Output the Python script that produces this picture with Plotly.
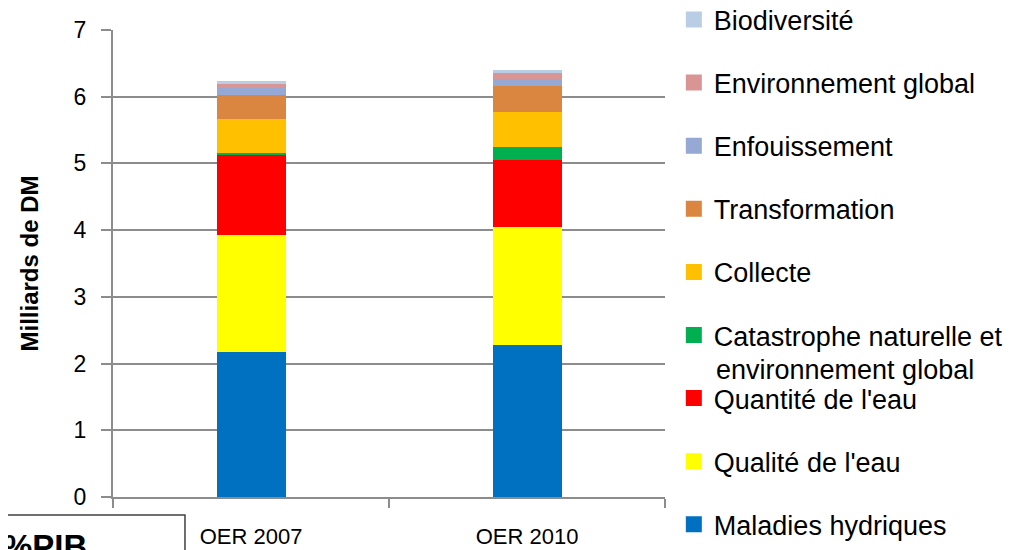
import plotly.graph_objects as go

# categories and stacked series (milliards de DM), bottom to top
categories = ["OER 2007", "OER 2010"]

series_names = [
    "Maladies hydriques",
    "Qualité de l'eau",
    "Quantité de l'eau",
    "Catastrophe naturelle et",
    "Collecte",
    "Transformation",
    "Enfouissement",
    "Environnement global",
    "Biodiversité",
]

maladies = [2.18, 2.28]
qualite = [1.75, 1.77]
quantite = [1.19, 1.00]
catastrophe = [0.03, 0.19]
collecte = [0.52, 0.53]
transformation = [0.35, 0.39]
enfouissement = [0.11, 0.11]
env_global = [0.06, 0.09]
biodiversite = [0.05, 0.04]

series_values = [maladies, qualite, quantite, catastrophe, collecte,
                 transformation, enfouissement, env_global, biodiversite]

colors = ["#0070C0", "#FFFF00", "#FF0000", "#00B050", "#FFC000",
          "#DA8540", "#95A9D4", "#D99594", "#B9CDE5"]

FONT = "Liberation Sans, Arial, sans-serif"

fig = go.Figure()
n = len(series_names)
for i, (name, vals, col) in enumerate(zip(series_names, series_values, colors)):
    fig.add_trace(go.Bar(
        x=categories, y=vals, name=name,
        marker=dict(color=col, line=dict(width=0)),
        legendgroup=f"g{i}", showlegend=False,
    ))
    # legend-only entry with a bigger square swatch
    fig.add_trace(go.Scatter(
        x=[None], y=[None], mode="markers", name=name,
        marker=dict(symbol="square", size=16, color=col),
        legendgroup=f"g{i}", legendrank=n - i, hoverinfo="skip",
    ))

fig.update_layout(
    barmode="stack",
    bargap=0.75,
    width=1023, height=550,
    margin=dict(l=105, r=366, t=22, b=61, autoexpand=False),
    plot_bgcolor="white", paper_bgcolor="white",
    font=dict(family=FONT, size=22, color="black"),
    legend=dict(
        x=1.016, xanchor="left", y=1.074, yanchor="top",
        traceorder="grouped", tracegroupgap=25,
        font=dict(size=27), bgcolor="rgba(0,0,0,0)",
        itemsizing="trace", maxheight=1000,
    ),
    xaxis=dict(
        showline=True, linecolor="#8c8c8c", linewidth=2,
        ticks="outside", tickson="boundaries", ticklen=9,
        tickcolor="#8c8c8c", tickwidth=2,
        ticklabelstandoff=19,
        tickfont=dict(size=22),
    ),
    yaxis=dict(
        range=[0, 7], dtick=1,
        showgrid=True, gridcolor="#8c8c8c", gridwidth=2,
        showline=True, linecolor="#8c8c8c", linewidth=2,
        ticks="outside", ticklen=10, tickcolor="#8c8c8c", tickwidth=2,
        ticklabelstandoff=10,
        tickfont=dict(size=23),
        title=dict(text="<b>Milliards de DM</b>", font=dict(size=24), standoff=28),
        zeroline=False,
    ),
)

# second line of the "Catastrophe naturelle et" legend entry
fig.add_annotation(
    xref="paper", yref="paper", x=1.0888, y=0.272,
    xanchor="left", yanchor="middle", showarrow=False,
    text="environnement global", font=dict(size=27),
)

# partially visible "%PIB" box at bottom-left
fig.add_shape(
    type="rect", xref="paper", yref="paper",
    x0=-0.25, x1=0.1304, y0=-0.2, y1=-0.0385,
    line=dict(color="#404040", width=1.5), fillcolor="white",
)
fig.add_annotation(
    xref="paper", yref="paper", x=-0.123, y=-0.063,
    xanchor="center", yanchor="top", showarrow=False,
    text="<b>%PIB</b>", font=dict(size=33),
)

fig.write_html("out.html")
